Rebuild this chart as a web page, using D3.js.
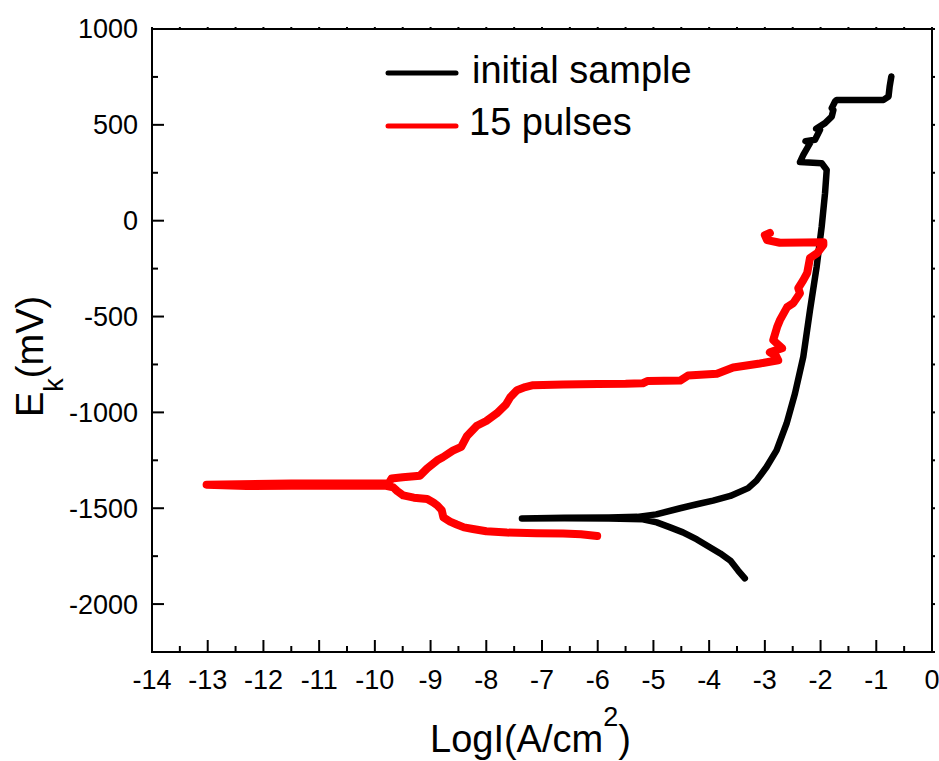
<!DOCTYPE html>
<html>
<head>
<meta charset="utf-8">
<script src="https://cdn.jsdelivr.net/npm/d3@7"></script>
<style>
  html, body { margin: 0; padding: 0; background: #fff; }
  svg { display: block; }
  text { font-family: "Liberation Sans", Arial, Helvetica, sans-serif; fill: #000; }
</style>
</head>
<body>
<svg id="chart" width="939" height="761"></svg>
<script>
// Potentiodynamic polarization curves: potential vs log current density

// initial sample (cathodic end -> Ecorr -> anodic branch)
const initialLogI = [-3.36, -3.48, -3.62, -3.80, -3.98, -4.22, -4.47, -4.70, -4.94, -5.19, -5.80, -6.60, -7.36,
  -6.60, -5.80, -5.29, -4.95, -4.52, -4.20, -3.93, -3.62, -3.30, -3.15, -2.97, -2.79, -2.61, -2.46,
  -2.31, -2.19, -2.07, -1.98, -1.92, -1.89, -1.98, -2.37, -2.31, -2.19, -2.27, -2.10, -2.01,
  -2.08, -1.92, -1.80, -1.77, -1.80, -1.74, -1.71, -0.87, -0.78, -0.76, -0.73];
const initialE = [-1866, -1825, -1773, -1736, -1705, -1663, -1626, -1600, -1574, -1558, -1553, -1552, -1553,
  -1550, -1548, -1545, -1532, -1500, -1478, -1460, -1436, -1395, -1356, -1285, -1198, -1058, -902,
  -710, -467, -240, -31, 143, 265, 300, 306, 343, 404, 415, 422, 474,
  480, 509, 543, 578, 587, 622, 630, 630, 648, 700, 752];

// after 15 pulses
const pulsesLogI = [-6.01, -6.30, -6.62, -7.10, -7.63, -8.00, -8.24, -8.40, -8.53, -8.65, -8.77,
  -8.80, -8.88, -8.95, -9.06, -9.30, -9.49, -9.60, -9.67, -9.80, -10.50, -11.50, -12.30, -13.02,
  -11.50, -10.30, -9.75, -9.70, -9.50, -9.19, -9.06, -8.88, -8.78, -8.60, -8.45, -8.35, -8.17,
  -8.00, -7.81, -7.65, -7.57, -7.45, -7.30, -7.16, -6.62, -6.00, -5.50, -5.19, -5.10, -4.52,
  -4.38, -3.86, -3.57, -3.09, -2.76, -2.80, -2.91, -2.69, -2.85, -2.78, -2.73, -2.60, -2.49,
  -2.37, -2.40, -2.31, -2.24, -2.19, -2.06, -1.95, -1.95, -2.30, -2.73, -2.96, -3.00, -2.91];
const pulsesE = [-1645, -1636, -1632, -1630, -1627, -1620, -1608, -1600, -1585, -1570, -1548,
  -1510, -1485, -1470, -1452, -1445, -1433, -1410, -1391, -1383, -1383, -1383, -1384, -1377,
  -1371, -1371, -1370, -1345, -1338, -1330, -1292, -1250, -1234, -1200, -1180, -1125, -1070,
  -1045, -1005, -960, -921, -884, -868, -858, -854, -852, -851, -848, -836, -834,
  -808, -798, -766, -745, -728, -705, -686, -665, -623, -555, -519, -451, -430,
  -378, -352, -310, -273, -195, -169, -127, -112, -114, -115, -101, -75, -64];

const seriesNames = ["initial sample", "15 pulses"];
const seriesColors = ["#000000", "#ff0000"];

const xMajorTicks = d3.range(-14, 0.01, 1);
const xMinorTicks = d3.range(-13.5, 0, 1);
const yMajorTicks = [-2000, -1500, -1000, -500, 0, 500, 1000];
const yMinorTicks = [-2250, -1750, -1250, -750, -250, 250, 750];

const svg = d3.select("#chart");
const plotLeft = 152, plotRight = 932, plotTop = 29, plotBottom = 652;

const x = d3.scaleLinear().domain([-14, 0]).range([plotLeft, plotRight]);
const y = d3.scaleLinear().domain([-2250, 1000]).range([plotBottom, plotTop]);

// curves
const line = d3.line().x(d => x(d[0])).y(d => y(d[1]));
const curves = [
  { data: d3.zip(initialLogI, initialE), color: seriesColors[0], width: 6.5 },
  { data: d3.zip(pulsesLogI, pulsesE), color: seriesColors[1], width: 8 }
];
svg.append("g").selectAll("path").data(curves).join("path")
  .attr("d", d => line(d.data))
  .attr("fill", "none")
  .attr("stroke", d => d.color)
  .attr("stroke-width", d => d.width)
  .attr("stroke-linejoin", "round")
  .attr("stroke-linecap", "round");

// frame
svg.append("rect")
  .attr("x", plotLeft).attr("y", plotTop)
  .attr("width", plotRight - plotLeft).attr("height", plotBottom - plotTop)
  .attr("fill", "none").attr("stroke", "#000").attr("stroke-width", 2);

// tick marks, drawn inward on left and bottom, small outward stubs on right and top
const ticks = svg.append("g").attr("stroke", "#000").attr("stroke-width", 2);
xMajorTicks.forEach(v => ticks.append("line")
  .attr("x1", x(v)).attr("x2", x(v)).attr("y1", plotBottom).attr("y2", plotBottom - 12));
xMinorTicks.forEach(v => ticks.append("line")
  .attr("x1", x(v)).attr("x2", x(v)).attr("y1", plotBottom).attr("y2", plotBottom - 6));
yMajorTicks.forEach(v => ticks.append("line")
  .attr("x1", plotLeft).attr("x2", plotLeft + 12).attr("y1", y(v)).attr("y2", y(v)));
yMinorTicks.forEach(v => ticks.append("line")
  .attr("x1", plotLeft).attr("x2", plotLeft + 6).attr("y1", y(v)).attr("y2", y(v)));
yMajorTicks.concat(yMinorTicks).forEach(v => ticks.append("line")
  .attr("x1", plotRight).attr("x2", plotRight + 3).attr("y1", y(v)).attr("y2", y(v)));
xMajorTicks.concat(xMinorTicks).forEach(v => ticks.append("line")
  .attr("x1", x(v)).attr("x2", x(v)).attr("y1", plotTop).attr("y2", plotTop - 2));

// tick labels
svg.append("g").selectAll("text").data(xMajorTicks).join("text")
  .attr("x", d => x(d)).attr("y", plotBottom + 37)
  .attr("text-anchor", "middle").attr("font-size", 27)
  .text(d => String(d));
svg.append("g").selectAll("text").data(yMajorTicks).join("text")
  .attr("x", plotLeft - 14).attr("y", d => y(d)).attr("dy", "0.35em")
  .attr("text-anchor", "end").attr("font-size", 27)
  .text(d => String(d));

// axis titles
const xt = svg.append("text").attr("x", 430).attr("y", 752).attr("font-size", 38);
xt.append("tspan").text("LogI(A/cm");
xt.append("tspan").attr("font-size", 27).attr("dy", -26).text("2");
xt.append("tspan").attr("dy", 26).text(")");

const yt = svg.append("text").attr("transform", "translate(43,417) rotate(-90)").attr("font-size", 38);
yt.append("tspan").text("E");
yt.append("tspan").attr("font-size", 27).attr("dy", 20).text("k");
yt.append("tspan").attr("dy", -20).text("(mV)");

// legend
const legend = svg.append("g");
const legendRows = [{ y: 73, ty: 83 }, { y: 126, ty: 135 }];
legendRows.forEach((r, i) => {
  legend.append("line").attr("x1", 388).attr("x2", 456).attr("y1", r.y).attr("y2", r.y)
    .attr("stroke", seriesColors[i]).attr("stroke-width", 5).attr("stroke-linecap", "round");
  legend.append("text").attr("x", i === 0 ? 472 : 469).attr("y", r.ty)
    .attr("font-size", 38).text(seriesNames[i]);
});
</script>
</body>
</html>
